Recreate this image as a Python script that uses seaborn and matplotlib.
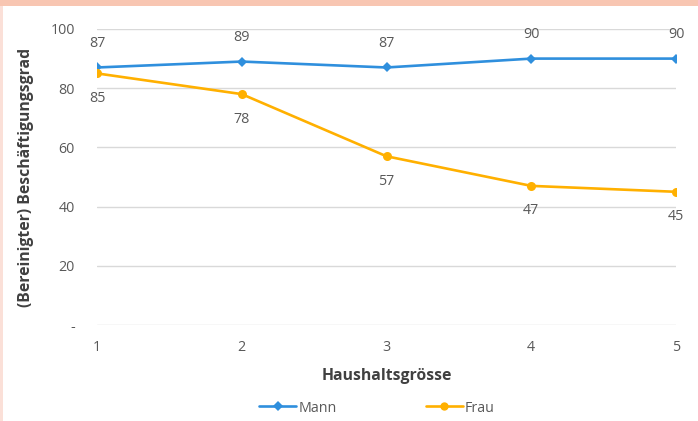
import matplotlib
matplotlib.use("Agg")
import matplotlib.pyplot as plt
import matplotlib.patches as mpatches
import seaborn as sns
import pandas as pd

# Employment rate by household size
haushaltsgroesse = [1, 2, 3, 4, 5]
mann = [87, 89, 87, 90, 90]
frau = [85, 78, 57, 47, 45]
y_ticks = [0, 20, 40, 60, 80, 100]
y_ticklabels = ["-", "20", "40", "60", "80", "100"]

df = pd.DataFrame({
    "Haushaltsgrösse": haushaltsgroesse * 2,
    "Wert": mann + frau,
    "Geschlecht": ["Mann"] * len(mann) + ["Frau"] * len(frau),
})

sns.set_theme(style="white")
plt.rcParams["font.family"] = ["Open Sans", "DejaVu Sans"]

BLUE = "#2F8FDD"
ORANGE = "#FFB000"
TXT = "#595959"
FS = 10.3

fig = plt.figure(figsize=(6.98, 4.21), dpi=100)
fig.patch.set_facecolor("white")

# frame decoration: salmon band at top, light strip at left
fig.add_artist(mpatches.Rectangle((0, 1 - 6 / 421), 1, 6 / 421, transform=fig.transFigure,
                                  facecolor="#F8C6B2", edgecolor="none"))
fig.add_artist(mpatches.Rectangle((0, 0), 2.5 / 698, 1 - 6 / 421, transform=fig.transFigure,
                                  facecolor="#FBE0D8", edgecolor="none"))

ax = fig.add_axes([97 / 698, (421 - 325) / 421, (676 - 97) / 698, (325 - 29) / 421])

sns.lineplot(data=df, x="Haushaltsgrösse", y="Wert", hue="Geschlecht", style="Geschlecht",
             palette={"Mann": BLUE, "Frau": ORANGE},
             markers={"Mann": "D", "Frau": "o"}, dashes=False,
             markersize=6.5, markeredgewidth=0, linewidth=1.9, ax=ax, legend=False)
# diamond a little smaller than the circle
ax.lines[0].set_markersize(5.5)

ax.set_xlim(1, 5)
ax.set_ylim(0, 100)
ax.set_xticks(haushaltsgroesse)
ax.set_xticklabels([str(v) for v in haushaltsgroesse])
ax.set_yticks(y_ticks)
ax.set_yticklabels(y_ticklabels)
ax.yaxis.grid(True, color="#D9D9D9", linewidth=1.0)
ax.set_axisbelow(True)
for s in ax.spines.values():
    s.set_visible(False)
ax.tick_params(axis="both", length=0, labelsize=FS, colors=TXT)
ax.tick_params(axis="y", pad=16)
ax.tick_params(axis="x", pad=11)

ax.set_xlabel("Haushaltsgrösse", fontsize=11.3, fontweight="bold", color="#404040", labelpad=9)
ax.set_ylabel("(Bereinigter) Beschäftigungsgrad", fontsize=11.3, fontweight="bold",
              color="#404040", labelpad=12)

for x, v in zip(haushaltsgroesse, mann):
    ax.annotate(str(v), (x, v), xytext=(0, 17), textcoords="offset points",
                ha="center", va="center", fontsize=FS, color=TXT, annotation_clip=False)
for x, v in zip(haushaltsgroesse, frau):
    ax.annotate(str(v), (x, v), xytext=(0, -18), textcoords="offset points",
                ha="center", va="center", fontsize=FS, color=TXT, annotation_clip=False)

handles = [
    plt.Line2D([], [], color=BLUE, marker="D", markersize=5, linewidth=1.9, markeredgewidth=0),
    plt.Line2D([], [], color=ORANGE, marker="o", markersize=6, linewidth=1.9, markeredgewidth=0),
]
fig.legend(handles, ["Mann", "Frau"], loc="center", bbox_to_anchor=(377 / 698, 1 - 408 / 421),
           ncol=2, frameon=False, fontsize=FS, handlelength=2.6, handletextpad=0.15,
           columnspacing=6.2, labelcolor=TXT)

fig.savefig("out.png", dpi=100, facecolor="white")
